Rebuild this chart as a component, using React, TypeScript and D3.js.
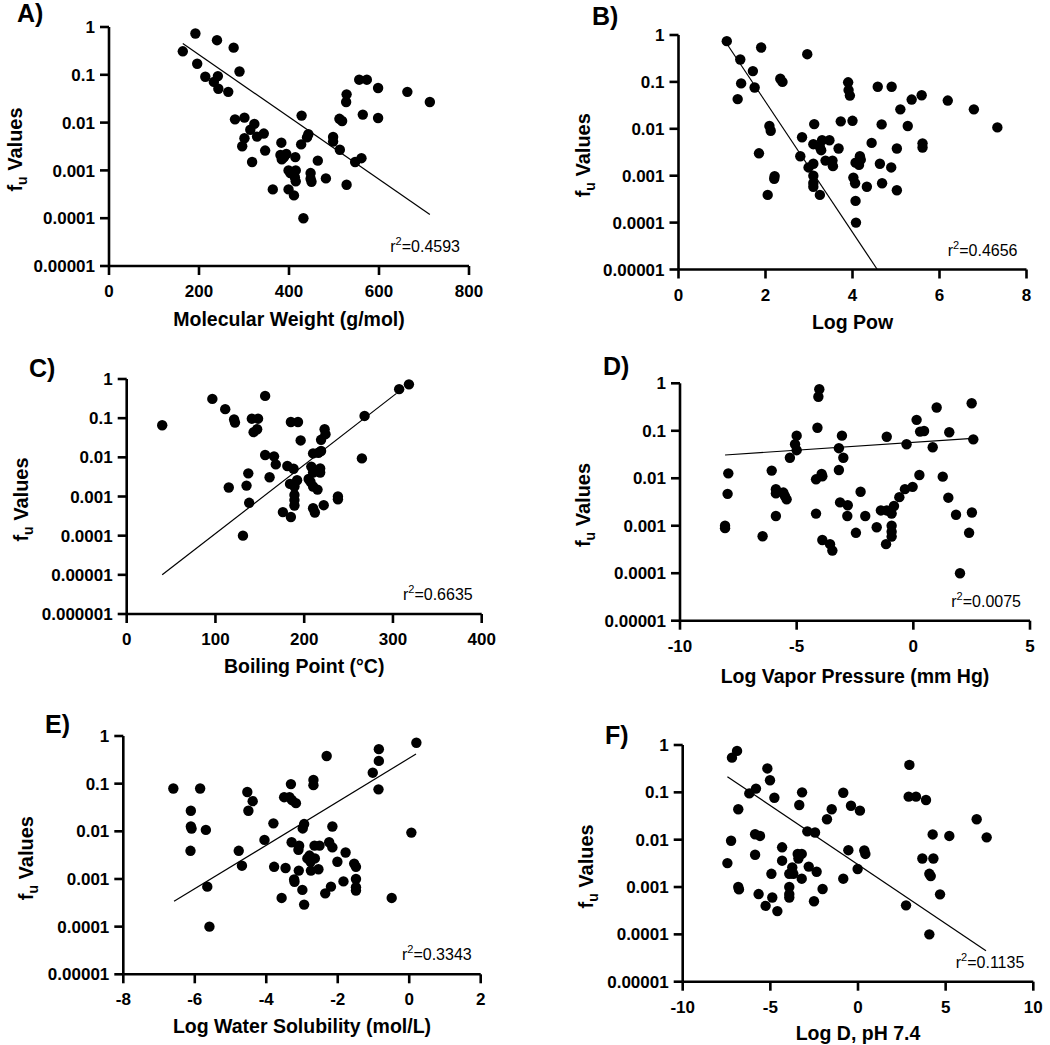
import React from "react";
import * as d3 from "d3";

// ---------- shared tick data ----------
const yTickValues = [1, 0.1, 0.01, 0.001, 0.0001, 0.00001, 0.000001];
const yTickLabels = ["1", "0.1", "0.01", "0.001", "0.0001", "0.00001", "0.000001"];

const panelLetters = ["A)", "B)", "C)", "D)", "E)", "F)"];
const xTitles = [
  "Molecular Weight (g/mol)",
  "Log Pow",
  "Boiling Point (°C)",
  "Log Vapor Pressure (mm Hg)",
  "Log Water Solubility (mol/L)",
  "Log D, pH 7.4",
];
const r2Values = ["0.4593", "0.4656", "0.6635", "0.0075", "0.3343", "0.1135"];

const xTicksA = [0, 200, 400, 600, 800];
const xTicksB = [0, 2, 4, 6, 8];
const xTicksC = [0, 100, 200, 300, 400];
const xTicksD = [-10, -5, 0, 5];
const xTicksE = [-8, -6, -4, -2, 0, 2];
const xTicksF = [-10, -5, 0, 5, 10];

// ---------- points: [x, fu] ----------
const pointsA: [number, number][] = [
  [164, 0.31], [192, 0.73], [240, 0.53], [277, 0.37], [196, 0.17], [290, 0.117], [214, 0.091],
  [233, 0.071], [242, 0.094], [243, 0.051], [265, 0.044], [280, 0.0117], [301, 0.0127], [323, 0.0094],
  [314, 0.0071], [329, 0.0051], [344, 0.0059], [301, 0.0047], [296, 0.0032], [318, 0.0015], [347, 0.0026],
  [383, 0.0038], [381, 0.0021], [384, 0.0017], [394, 0.0022], [414, 0.0019], [399, 0.001], [403, 0.00088],
  [415, 0.001], [415, 0.00059], [364, 0.0004], [399, 0.0004], [411, 0.0003], [432, 0.0001], [428, 0.014],
  [443, 0.0057], [440, 0.0049], [427, 0.0035], [448, 0.00088], [448, 0.00067], [450, 0.00058], [464, 0.0016],
  [482, 0.00068], [498, 0.005], [498, 0.004], [513, 0.0027], [512, 0.012], [518, 0.0108], [528, 0.039],
  [527, 0.027], [528, 0.0005], [547, 0.0015], [561, 0.0018], [564, 0.0147], [556, 0.079], [573, 0.079],
  [598, 0.0125], [598, 0.053], [663, 0.044], [713, 0.027], [389, 0.0019], [413, 0.00072],
];

const pointsB: [number, number][] = [
  [1.11, 0.74], [1.42, 0.3], [1.9, 0.54], [2.96, 0.39], [1.71, 0.17], [1.44, 0.093], [1.36, 0.043],
  [1.75, 0.076], [2.34, 0.117], [2.39, 0.1], [2.09, 0.0115], [2.12, 0.0091], [1.85, 0.003], [2.21, 0.00098],
  [2.2, 0.00086], [2.05, 0.00039], [2.84, 0.0066], [2.8, 0.0026], [2.99, 0.0015], [3.1, 0.0018], [3.12, 0.0126],
  [3.1, 0.0047], [3.25, 0.0041], [3.3, 0.0057], [3.28, 0.0035], [3.47, 0.0057], [3.38, 0.0021], [3.54, 0.0021],
  [3.55, 0.0016], [3.1, 0.001], [3.1, 0.0007], [3.1, 0.00058], [3.25, 0.00039], [3.68, 0.0038], [3.73, 0.0144],
  [3.9, 0.098], [3.91, 0.067], [3.94, 0.051], [4.0, 0.0148], [4.02, 0.00091], [4.06, 0.00069], [4.07, 0.0019],
  [4.15, 0.0017], [4.17, 0.0026], [4.19, 0.0022], [4.07, 0.00029], [4.08, 0.0001], [4.33, 0.00058], [4.44, 0.005],
  [4.58, 0.079], [4.67, 0.0124], [4.63, 0.0018], [4.68, 0.00069], [4.9, 0.079], [4.89, 0.0015], [5.02, 0.0038],
  [5.02, 0.00049], [5.1, 0.026], [5.27, 0.0115], [5.36, 0.042], [5.59, 0.052], [5.61, 0.0049], [5.61, 0.004],
  [6.19, 0.04], [6.79, 0.026], [7.33, 0.0107],
];

const pointsC: [number, number][] = [
  [40, 0.066], [96.5, 0.31], [111, 0.17], [121, 0.093], [122, 0.077], [141, 0.097], [148, 0.097], [143, 0.044],
  [147, 0.052], [156, 0.37], [115, 0.0017], [137, 0.0039], [135, 0.0019], [138, 0.00069], [131, 0.0001],
  [156, 0.0115], [166, 0.0106], [168, 0.0066], [161, 0.0031], [181, 0.006], [188, 0.0051], [185, 0.08],
  [193, 0.08], [196, 0.027], [184, 0.0021], [192, 0.0026], [189, 0.0018], [189, 0.0011], [189, 0.00081],
  [189, 0.00059], [176, 0.0004], [185, 0.0003], [205, 0.0028], [208, 0.0058], [210, 0.0041], [210, 0.0126],
  [216, 0.0131], [219, 0.0145], [219, 0.028], [223, 0.052], [224, 0.039], [218, 0.0052], [218, 0.0041],
  [210, 0.0018], [215, 0.0015], [210, 0.0005], [212, 0.00039], [222, 0.0006], [238, 0.001], [238, 0.00085],
  [265, 0.0094], [268, 0.114], [307, 0.55], [318, 0.73], [207, 0.0024],
];

const pointsD: [number, number][] = [
  [-8.07, 0.001], [-8.07, 0.00089], [-7.96, 0.0047], [-7.93, 0.0127], [-6.46, 0.0006], [-6.07, 0.0145],
  [-5.89, 0.0059], [-5.89, 0.0048], [-5.89, 0.0016], [-5.57, 0.005], [-5.5, 0.0042], [-5.43, 0.0036],
  [-5.29, 0.027], [-5.07, 0.052], [-5.0, 0.079], [-5.0, 0.039], [-4.03, 0.75], [-4.07, 0.52], [-4.11, 0.116],
  [-4.17, 0.0095], [-3.93, 0.0123], [-3.9, 0.011], [-4.17, 0.0018], [-3.9, 0.0005], [-3.57, 0.00041],
  [-3.47, 0.0003], [-3.19, 0.043], [-3.06, 0.079], [-3.0, 0.027], [-3.19, 0.0149], [-3.14, 0.0031],
  [-2.81, 0.0027], [-2.83, 0.0016], [-2.26, 0.0052], [-2.06, 0.0016], [-2.46, 0.00071], [-1.57, 0.00093],
  [-1.39, 0.0021], [-1.17, 0.00041], [-1.14, 0.075], [-1.14, 0.0021], [-0.93, 0.0018], [-0.93, 0.001],
  [-0.93, 0.00075], [-0.93, 0.00059], [-0.83, 0.0026], [-0.6, 0.004], [-0.36, 0.0059], [-0.29, 0.052],
  [-0.03, 0.0066], [0.14, 0.17], [0.26, 0.0117], [0.29, 0.096], [0.46, 0.099], [0.83, 0.045], [1.0, 0.31],
  [1.26, 0.0108], [1.54, 0.093], [1.5, 0.0039], [1.83, 0.0017], [2.0, 0.0001], [2.39, 0.00071], [2.51, 0.0019],
  [2.5, 0.38], [2.57, 0.066],
];

const pointsE: [number, number][] = [
  [-6.6, 0.079], [-5.85, 0.079], [-6.11, 0.027], [-6.11, 0.0126], [-6.09, 0.0114], [-6.12, 0.0039],
  [-5.69, 0.0107], [-5.65, 0.00069], [-5.59, 0.0001], [-4.77, 0.0039], [-4.68, 0.0019], [-4.53, 0.067],
  [-4.38, 0.043], [-4.5, 0.027], [-4.05, 0.0066], [-3.8, 0.0147], [-3.78, 0.0018], [-3.57, 0.0004],
  [-3.5, 0.052], [-3.46, 0.0017], [-3.31, 0.098], [-3.35, 0.052], [-3.28, 0.045], [-3.17, 0.039],
  [-3.29, 0.0059], [-3.08, 0.005], [-3.1, 0.0041], [-3.09, 0.0015], [-3.22, 0.00098], [-3.21, 0.00087],
  [-2.99, 0.00059], [-2.94, 0.00029], [-2.94, 0.0142], [-2.98, 0.0115], [-2.85, 0.0027], [-2.79, 0.0031],
  [-2.76, 0.0023], [-2.75, 0.0015], [-2.64, 0.0027], [-2.65, 0.005], [-2.68, 0.12], [-2.68, 0.093],
  [-2.54, 0.0016], [-2.51, 0.005], [-2.31, 0.38], [-2.35, 0.0005], [-2.24, 0.0059], [-2.15, 0.0126],
  [-2.15, 0.0046], [-2.19, 0.00069], [-2.01, 0.0023], [-1.78, 0.0036], [-1.84, 0.00089], [-1.54, 0.0021],
  [-1.49, 0.0018], [-1.49, 0.001], [-1.49, 0.00067], [-1.49, 0.00057], [-1.02, 0.17], [-0.85, 0.53],
  [-0.85, 0.3], [-0.86, 0.076], [-0.49, 0.0004], [0.06, 0.0094], [0.2, 0.72],
];

const pointsF: [number, number][] = [
  [-7.45, 0.0032], [-7.24, 0.0095], [-7.19, 0.54], [-6.9, 0.75], [-6.83, 0.044], [-6.83, 0.001],
  [-6.79, 0.00089], [-6.2, 0.095], [-5.82, 0.12], [-5.87, 0.013], [-5.59, 0.012], [-5.87, 0.0048],
  [-5.67, 0.00071], [-5.27, 0.0004], [-5.17, 0.32], [-5.02, 0.18], [-4.77, 0.077], [-4.94, 0.0019],
  [-4.89, 0.0006], [-4.6, 0.00031], [-4.33, 0.0069], [-4.33, 0.0036], [-3.92, 0.0019], [-3.92, 0.001],
  [-3.92, 0.00071], [-3.92, 0.0006], [-3.75, 0.0026], [-3.69, 0.0019], [-3.44, 0.005], [-3.4, 0.004],
  [-3.21, 0.005], [-3.21, 0.0015], [-3.19, 0.1], [-3.35, 0.054], [-2.89, 0.015], [-2.81, 0.0027],
  [-2.45, 0.0142], [-2.36, 0.0021], [-2.51, 0.0005], [-2.02, 0.00091], [-1.77, 0.027], [-1.5, 0.044],
  [-0.84, 0.098], [-0.84, 0.0015], [-0.55, 0.006], [-0.4, 0.052], [-0.02, 0.0024], [0.11, 0.041],
  [0.36, 0.0059], [0.42, 0.005], [2.74, 0.00041], [2.93, 0.38], [2.89, 0.081], [3.31, 0.081], [3.88, 0.069],
  [3.67, 0.004], [4.07, 0.0019], [4.15, 0.0017], [4.07, 0.0001], [4.26, 0.0129], [4.3, 0.004], [4.68, 0.0007],
  [5.21, 0.012], [6.77, 0.027], [7.34, 0.0112],
];

// ---------- regression fits: log10(fu) = intercept + slope * x, over xRange ----------
const fitXRangeA = [164, 713];
const fitCoefA = [0.72, -0.006508];
const fitXRangeB = [1.13, 4.57];
const fitCoefB = [1.36, -1.392];
const fitXRangeC = [40, 304];
const fitCoefC = [-5.702, 0.01755];
const fitXRangeD = [-8.07, 2.54];
const fitCoefD = [-1.243, 0.0331];
const fitXRangeE = [-6.58, 0.19];
const fitCoefE = [-0.465, 0.4566];
const fitXRangeF = [-7.45, 7.3];
const fitCoefF = [-2.526, -0.2492];

// ---------- layout (pixel geometry) ----------
type Layout = {
  left: number; right: number; top: number; bottom: number;
  letterX: number; letterY: number; yTitleOff: number; xTitleOff: number;
};
const layouts: Layout[] = [
  { left: 109, right: 469, top: 27, bottom: 266, letterX: 17, letterY: 22, yTitleOff: 87, xTitleOff: 60 },
  { left: 678.5, right: 1026.5, top: 35, bottom: 269.5, letterX: 592, letterY: 25, yTitleOff: 88.5, xTitleOff: 59 },
  { left: 126.7, right: 481.7, top: 379, bottom: 614, letterX: 29, letterY: 377, yTitleOff: 98.7, xTitleOff: 59 },
  { left: 680, right: 1030, top: 383.3, bottom: 620.7, letterX: 603, letterY: 375, yTitleOff: 90, xTitleOff: 62 },
  { left: 123.3, right: 480.7, top: 736, bottom: 974.3, letterX: 45, letterY: 733, yTitleOff: 90, xTitleOff: 59 },
  { left: 682.7, right: 1033.3, top: 745, bottom: 981.7, letterX: 605, letterY: 744, yTitleOff: 90, xTitleOff: 58 },
];

const panels = [
  { ticks: xTicksA, points: pointsA, fitX: fitXRangeA, fit: fitCoefA, yMin: 0.00001 },
  { ticks: xTicksB, points: pointsB, fitX: fitXRangeB, fit: fitCoefB, yMin: 0.00001 },
  { ticks: xTicksC, points: pointsC, fitX: fitXRangeC, fit: fitCoefC, yMin: 0.000001 },
  { ticks: xTicksD, points: pointsD, fitX: fitXRangeD, fit: fitCoefD, yMin: 0.00001 },
  { ticks: xTicksE, points: pointsE, fitX: fitXRangeE, fit: fitCoefE, yMin: 0.00001 },
  { ticks: xTicksF, points: pointsF, fitX: fitXRangeF, fit: fitCoefF, yMin: 0.00001 },
];

const FONT = "'Liberation Sans', Arial, Helvetica, sans-serif";

function Panel({ idx }: { idx: number }) {
  const L = layouts[idx];
  const P = panels[idx];
  const xDom = [P.ticks[0], P.ticks[P.ticks.length - 1]];
  const x = d3.scaleLinear().domain(xDom).range([L.left, L.right]);
  const y = d3.scaleLog().domain([P.yMin, 1]).range([L.bottom, L.top]);
  const yTicks = yTickValues.filter((v) => v >= P.yMin * 0.999);
  const fitPts: [number, number][] = P.fitX.map((xv) => [xv, Math.pow(10, P.fit[0] + P.fit[1] * xv)]);
  const line = d3
    .line<[number, number]>()
    .x((d) => x(d[0]))
    .y((d) => y(Math.max(d[1], P.yMin)));
  const tickLen = 9;
  const yMid = (L.top + L.bottom) / 2 + 3;
  const xMid = (L.left + L.right) / 2;
  return (
    <g>
      <text x={L.letterX} y={L.letterY} fontSize={25} fontWeight="bold" fontFamily={FONT}>
        {panelLetters[idx]}
      </text>
      {/* points */}
      {P.points.map((d, i) => (
        <circle key={i} cx={x(d[0])} cy={y(d[1])} r={5.2} fill="#000" />
      ))}
      {/* fit */}
      <path d={line(fitPts) || ""} stroke="#000" strokeWidth={1.2} fill="none" />
      {/* axes */}
      <line x1={L.left} x2={L.left} y1={L.top} y2={L.bottom} stroke="#000" strokeWidth={2.6} />
      <line x1={L.left} x2={L.right} y1={L.bottom} y2={L.bottom} stroke="#000" strokeWidth={2.6} />
      {yTicks.map((v, i) => (
        <g key={"y" + i}>
          <line x1={L.left - tickLen} x2={L.left} y1={y(v)} y2={y(v)} stroke="#000" strokeWidth={2.6} />
          <text
            x={L.left - 14}
            y={y(v)}
            dy="0.36em"
            textAnchor="end"
            fontSize={17}
            fontWeight="bold"
            fontFamily={FONT}
          >
            {yTickLabels[yTickValues.indexOf(v)]}
          </text>
        </g>
      ))}
      {P.ticks.map((v, i) => (
        <g key={"x" + i}>
          <line x1={x(v)} x2={x(v)} y1={L.bottom} y2={L.bottom + tickLen} stroke="#000" strokeWidth={2.6} />
          <text x={x(v)} y={L.bottom + 31} textAnchor="middle" fontSize={17} fontWeight="bold" fontFamily={FONT}>
            {v}
          </text>
        </g>
      ))}
      {/* titles */}
      <text
        x={xMid}
        y={L.bottom + L.xTitleOff}
        textAnchor="middle"
        fontSize={19.5}
        fontWeight="bold"
        fontFamily={FONT}
      >
        {xTitles[idx]}
      </text>
      <text
        transform={`translate(${L.left - L.yTitleOff},${yMid}) rotate(-90)`}
        textAnchor="middle"
        fontSize={20}
        fontWeight="bold"
        fontFamily={FONT}
      >
        f<tspan fontSize={14} dy={5}>u</tspan>
        <tspan dy={-5}> Values</tspan>
      </text>
      <text
        x={L.right - 9}
        y={L.bottom - 14}
        textAnchor="end"
        fontSize={16}
        fontFamily={FONT}
      >
        r<tspan fontSize={11} dy={-7}>2</tspan>
        <tspan dy={7}>={r2Values[idx]}</tspan>
      </text>
    </g>
  );
}

export default function App() {
  return (
    <div style={{ position: "absolute", left: 0, top: 0 }}>
      <svg width={1050} height={1045} style={{ display: "block", background: "#fff" }}>
        {layouts.map((_, i) => (
          <Panel key={i} idx={i} />
        ))}
      </svg>
    </div>
  );
}
